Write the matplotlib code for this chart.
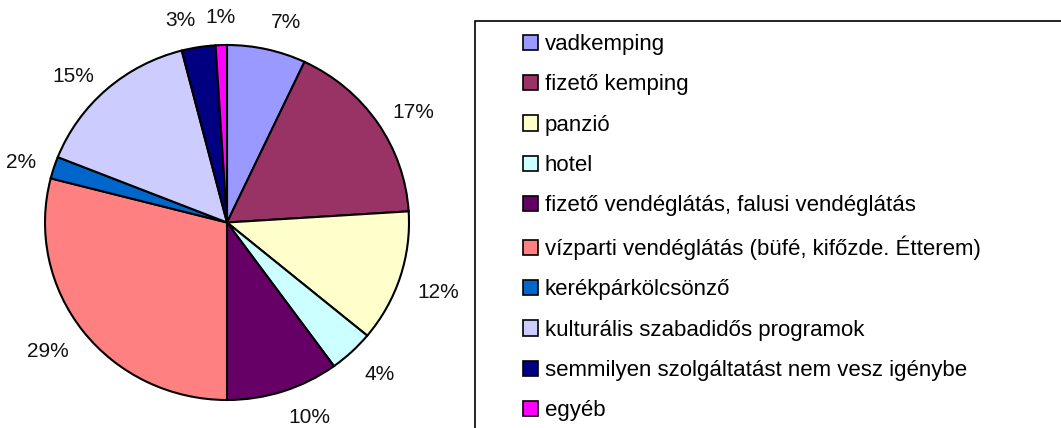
# Services used by visitors - pie chart with side legend

import numpy as np
import matplotlib.pyplot as plt
from matplotlib.patches import Patch, Rectangle

plt.rcParams['font.family'] = ['Liberation Sans', 'DejaVu Sans']

# categories and percentages (clockwise from 12 o'clock)
categories = ['vadkemping', 'fizető kemping', 'panzió', 'hotel',
              'fizető vendéglátás, falusi vendéglátás',
              'vízparti vendéglátás (büfé, kifőzde. Étterem)',
              'kerékpárkölcsönző', 'kulturális szabadidős programok',
              'semmilyen szolgáltatást nem vesz igénybe', 'egyéb']
values = [7, 17, 12, 4, 10, 29, 2, 15, 3, 1]
colors = ['#9999FF', '#993366', '#FFFFCC', '#CCFFFF', '#660066',
          '#FF8080', '#0066CC', '#CCCCFF', '#000080', '#FF00FF']
pct_labels = [f'{v}%' for v in values]

W, H = 1061, 428
fig = plt.figure(figsize=(W / 100, H / 100), dpi=100)

# pie axes: centre ~(227, 222) px, slightly wider than tall like the original
cx, cy, rx, ry = 227, 222.5, 182, 177.5
ax = fig.add_axes([(cx - rx) / W, (H - cy - ry) / H, 2 * rx / W, 2 * ry / H])
wedges, texts = ax.pie(values, labels=pct_labels, colors=colors, startangle=90,
                       counterclock=False, labeldistance=1.1, radius=1,
                       wedgeprops=dict(edgecolor='black', linewidth=1.5),
                       textprops=dict(fontsize=15, color='#111111'))
ax.set_xlim(-1, 1)
ax.set_ylim(-1, 1)
ax.set_aspect('auto')
ax.axis('off')

# excel-ish label placement: labels below centre hang under their anchor
for t in texts:
    x, y = t.get_position()
    ang = np.arctan2(y, x)
    if abs(np.cos(ang)) < 0.05:
        t.set_ha('center')
    if np.sin(ang) < 0:
        t.set_va('top')
    elif np.sin(ang) > 0.9:
        t.set_va('bottom')

# legend frame runs off the right and bottom edges
fig.patches.append(Rectangle((475 / W, -0.1), 0.6, (H - 21.5) / H + 0.1,
                             transform=fig.transFigure, fill=False,
                             edgecolor='black', linewidth=1.2))

handles = [Patch(facecolor=c, edgecolor='black', linewidth=1.2) for c in colors]
fig.legend(handles, categories, loc='upper left', bbox_to_anchor=(523 / W, 1 - 34 / H),
           frameon=False, fontsize=16, handlelength=0.68, handleheight=0.68,
           handletextpad=0.3, labelspacing=0.87, borderpad=0, borderaxespad=0)

plt.savefig('out.png', dpi=100)
